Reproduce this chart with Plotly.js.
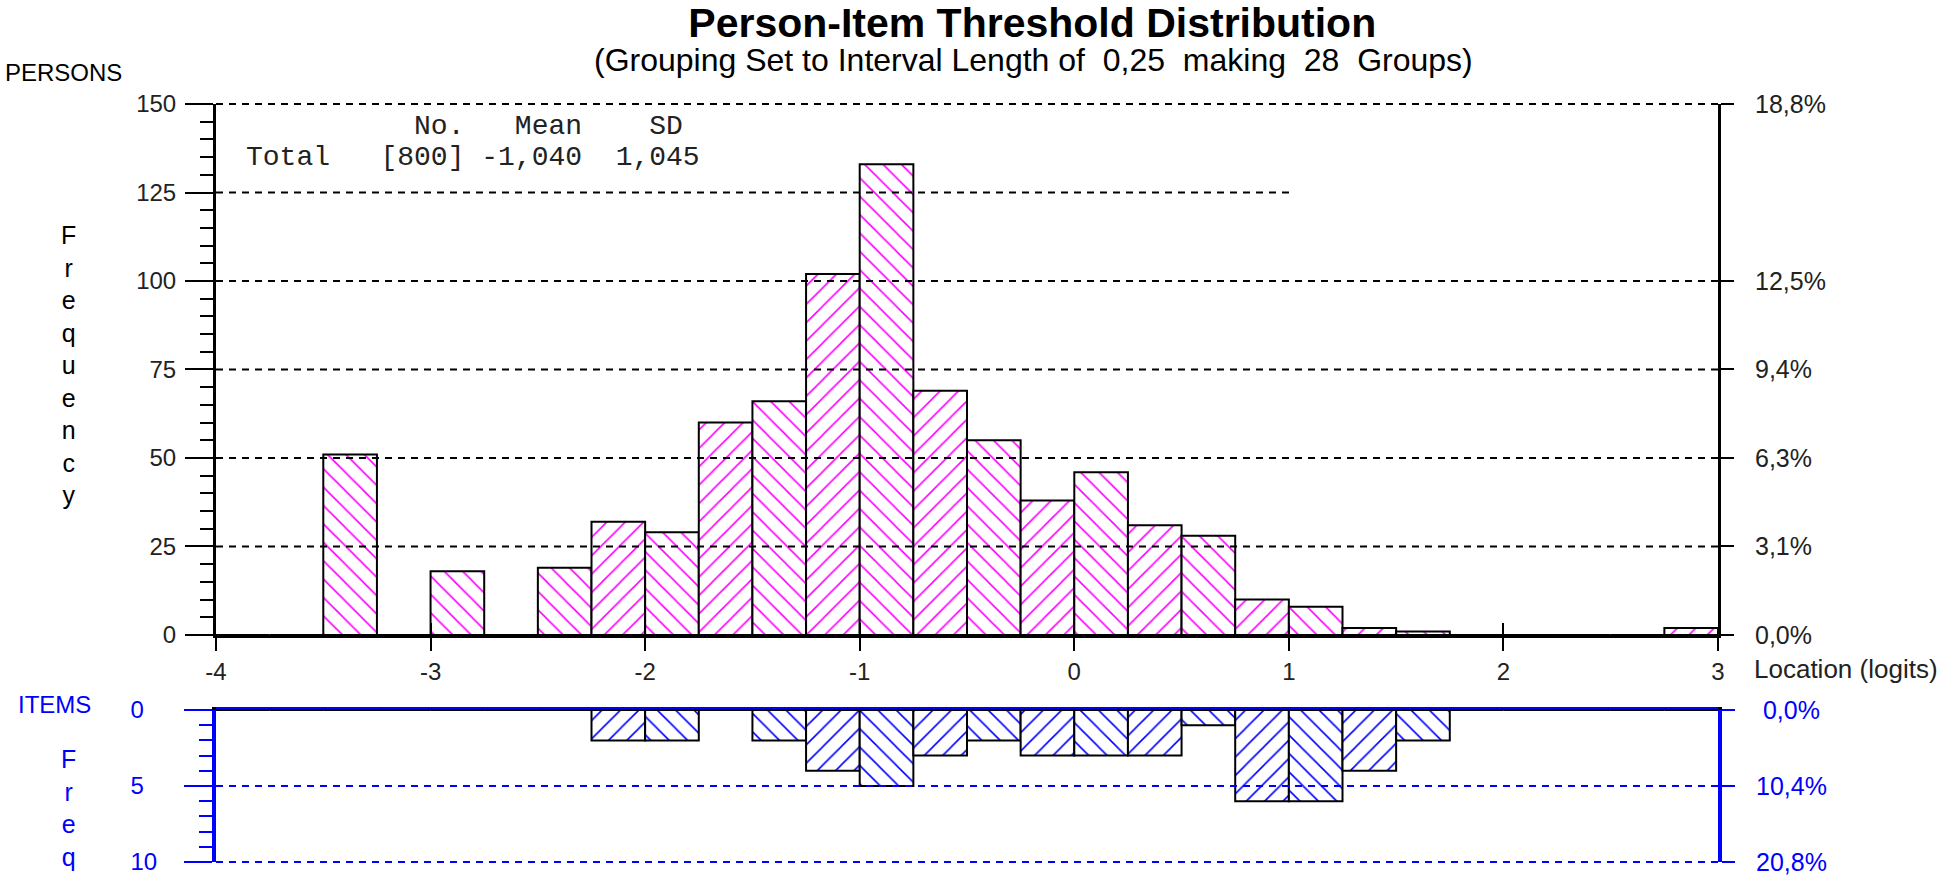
<!DOCTYPE html>
<html>
<head>
<meta charset="utf-8">
<script src="https://cdn.plot.ly/plotly-3.0.1.min.js"></script>
<style>
  html, body { margin: 0; padding: 0; background: #fff; }
  #chart { width: 1944px; height: 882px; }
</style>
</head>
<body>
<div id="chart"></div>
<script>
// 28 groups, interval length 0.25, from -4 to 3 logits
const binMids = [-3.875, -3.625, -3.375, -3.125, -2.875, -2.625, -2.375, -2.125, -1.875, -1.625,
                 -1.375, -1.125, -0.875, -0.625, -0.375, -0.125, 0.125, 0.375, 0.625, 0.875,
                 1.125, 1.375, 1.625, 1.875, 2.125, 2.375, 2.625, 2.875];
const personFreq = [0, 0, 51, 0, 18, 0, 19, 32, 29, 60, 66, 102, 133, 69, 55, 38, 46, 31, 28, 10, 8, 2, 1, 0, 0, 0, 0, 2];
const itemFreq = [0, 0, 0, 0, 0, 0, 0, 2, 2, 0, 2, 4, 5, 3, 2, 3, 3, 3, 1, 6, 6, 4, 2, 0, 0, 0, 0, 0];

const xTicks = [-4, -3, -2, -1, 0, 1, 2, 3];
const xTickText = ['-4', '-3', '-2', '-1', '0', '1', '2', '3'];
const personGrid = [25, 50, 75, 100];
const personPctVals = [0, 25, 50, 75, 100, 150];
const personPctText = ['0,0%', '3,1%', '6,3%', '9,4%', '12,5%', '18,8%'];
const itemTickVals = [0, 5, 10];
const itemTickText = ['0\u2007', '5\u2007', '10'];
const itemPctText = ['\u00a00,0%', '10,4%', '20,8%'];

const statsHead = '          No.   Mean    SD';
const statsRow = 'Total   [800] -1,040  1,045';

const MAGENTA = '#ff00ff';
const BLUE = '#0000ff';
const nb = s => s.replace(/ /g, '\u00a0');
const hatch = binMids.map((_, i) => (i % 2 === 0 ? '\\' : '/'));

const traces = [
    {
        type: 'bar', x: binMids, y: personFreq, width: 0.25, xaxis: 'x', yaxis: 'y',
        marker: {
            color: 'white',
            line: { color: 'black', width: 2 },
            pattern: { shape: hatch, fgcolor: MAGENTA, bgcolor: 'white', size: 13, solidity: 0.12, fillmode: 'replace' },
        },
        hoverinfo: 'skip',
    },
    {
        type: 'bar', x: binMids, y: itemFreq, width: 0.25, xaxis: 'x2', yaxis: 'y2',
        marker: {
            color: 'white',
            line: { color: 'black', width: 2 },
            pattern: { shape: hatch, fgcolor: BLUE, bgcolor: 'white', size: 13, solidity: 0.12, fillmode: 'replace' },
        },
        hoverinfo: 'skip',
    },
    // empty traces so the overlay axes get drawn
    { type: 'scatter', x: [], y: [], xaxis: 'x', yaxis: 'y3', hoverinfo: 'skip' },
    { type: 'scatter', x: [], y: [], xaxis: 'x3', yaxis: 'y', hoverinfo: 'skip' },
    { type: 'scatter', x: [], y: [], xaxis: 'x2', yaxis: 'y4', hoverinfo: 'skip' },
];

const dashed = (color) => ({ color: color, width: 2, dash: '7px,6px' });
const shapes = [];
personGrid.forEach(v => shapes.push({ type: 'line', layer: 'above', xref: 'x', yref: 'y', x0: -4, x1: 3, y0: v, y1: v, line: dashed('black') }));
shapes.push({ type: 'line', layer: 'above', xref: 'x', yref: 'y', x0: -4, x1: 1.02, y0: 125, y1: 125, line: dashed('black') });
shapes.push({ type: 'line', layer: 'above', xref: 'x', yref: 'paper', x0: -4, x1: 3, y0: 1, y1: 1, line: dashed('black') });
shapes.push({ type: 'line', layer: 'above', xref: 'x2', yref: 'y2', x0: -4, x1: 3, y0: 5, y1: 5, line: dashed(BLUE) });
shapes.push({ type: 'line', layer: 'above', xref: 'x2', yref: 'paper', x0: -4, x1: 3, y0: 0, y1: 0, line: dashed(BLUE) });
shapes.push({ type: 'line', layer: 'above', xref: 'paper', yref: 'paper', x0: 0, x1: 1, y0: 0.2032, y1: 0.2032, line: { color: BLUE, width: 2 } });

const ann = (text, x, y, opts) => Object.assign({ text: text, x: x, y: y, xref: 'paper', yref: 'paper', showarrow: false }, opts);
const mono = 'Liberation Mono, Courier New, monospace';
const annotations = [
    ann('(Grouping Set to Interval Length of' + nb('  0,25  making  28  Groups)'), 0.5446, 1.058,
        { xanchor: 'center', yanchor: 'middle', font: { size: 32, color: 'black' } }),
    ann('PERSONS', -0.1418, 1.042, { xanchor: 'left', yanchor: 'middle', font: { size: 24, color: 'black' } }),
    ann('F<br>r<br>e<br>q<br>u<br>e<br>n<br>c<br>y', -0.0985, 0.656, { xanchor: 'center', yanchor: 'middle', font: { size: 25, color: 'black' } }),
    ann('ITEMS', -0.133, 0.2084, { xanchor: 'left', yanchor: 'middle', font: { size: 24, color: BLUE } }),
    ann('F<br>r<br>e<br>q', -0.0985, 0.0712, { xanchor: 'center', yanchor: 'middle', font: { size: 25, color: BLUE } }),
    ann('Location (logits)', 1.0226, 0.2546, { xanchor: 'left', yanchor: 'middle', font: { size: 26, color: '#222' } }),
    ann(nb(statsHead), 0.0186, 0.970, { xanchor: 'left', yanchor: 'middle', font: { family: mono, size: 28, color: '#222' } }),
    ann(nb(statsRow), 0.0186, 0.929, { xanchor: 'left', yanchor: 'middle', font: { family: mono, size: 28, color: '#222' } }),
];

const layout = {
    width: 1944, height: 882,
    margin: { l: 216, r: 226, t: 104, b: 20 },
    paper_bgcolor: 'white', plot_bgcolor: 'white',
    font: { family: 'Liberation Sans, Arial, sans-serif', size: 24, color: '#222' },
    showlegend: false,
    barmode: 'overlay',
    title: {
        text: '<b>Person-Item Threshold Distribution</b>',
        xref: 'container', yref: 'container', x: 0.531, y: 0.974, xanchor: 'center', yanchor: 'middle',
        font: { size: 41, color: 'black' },
    },
    xaxis: {
        domain: [0, 1], anchor: 'y', range: [-4, 3], tickmode: 'array', tickvals: xTicks, ticktext: xTickText,
        ticks: 'outside', ticklen: 13, tickwidth: 2, tickcolor: 'black',
        showline: true, linecolor: 'black', linewidth: 3, showgrid: false, zeroline: false,
    },
    xaxis3: {
        overlaying: 'x', anchor: 'y', range: [-4, 3], tickmode: 'array', tickvals: xTicks,
        ticks: 'inside', ticklen: 12, tickwidth: 2, tickcolor: 'black',
        showticklabels: false, showline: false, showgrid: false, zeroline: false,
    },
    yaxis: {
        domain: [0.2995, 1], anchor: 'x', range: [0, 150], tickmode: 'linear', tick0: 0, dtick: 25,
        ticks: 'outside', ticklen: 28, tickwidth: 2, tickcolor: 'black', ticklabelstandoff: 4,
        showline: true, linecolor: 'black', linewidth: 3, showgrid: false, zeroline: false,
        minor: { dtick: 5, ticks: 'outside', ticklen: 13, tickwidth: 2, tickcolor: 'black', showgrid: false },
    },
    yaxis3: {
        overlaying: 'y', side: 'right', anchor: 'x', range: [0, 150],
        tickmode: 'array', tickvals: personPctVals, ticktext: personPctText,
        ticks: 'outside', ticklen: 13, tickwidth: 2, tickcolor: 'black', ticklabelstandoff: 16,
        tickfont: { size: 25 },
        showline: true, linecolor: 'black', linewidth: 3, showgrid: false, zeroline: false,
    },
    xaxis2: {
        domain: [0, 1], anchor: 'y2', side: 'top', range: [-4, 3],
        showticklabels: false, ticks: '', showline: true, linecolor: 'black', linewidth: 3,
        showgrid: false, zeroline: false,
    },
    yaxis2: {
        domain: [0, 0.2005], anchor: 'x2', range: [10, 0],
        tickmode: 'array', tickvals: itemTickVals, ticktext: itemTickText,
        ticks: 'outside', ticklen: 28, tickwidth: 2, tickcolor: BLUE, ticklabelstandoff: 22,
        tickfont: { color: BLUE },
        showline: true, linecolor: BLUE, linewidth: 4, showgrid: false, zeroline: false,
        minor: { tickmode: 'linear', tick0: 0, dtick: 1, ticks: 'outside', ticklen: 13, tickwidth: 2, tickcolor: BLUE, showgrid: false },
    },
    yaxis4: {
        overlaying: 'y2', side: 'right', anchor: 'x2', range: [10, 0],
        tickmode: 'array', tickvals: itemTickVals, ticktext: itemPctText,
        ticks: 'outside', ticklen: 13, tickwidth: 2, tickcolor: BLUE, ticklabelstandoff: 16,
        tickfont: { size: 25, color: BLUE },
        showline: true, linecolor: BLUE, linewidth: 4, showgrid: false, zeroline: false,
    },
    shapes: shapes,
    annotations: annotations,
};

Plotly.newPlot('chart', traces, layout, { displayModeBar: false, staticPlot: true });
</script>
</body>
</html>
